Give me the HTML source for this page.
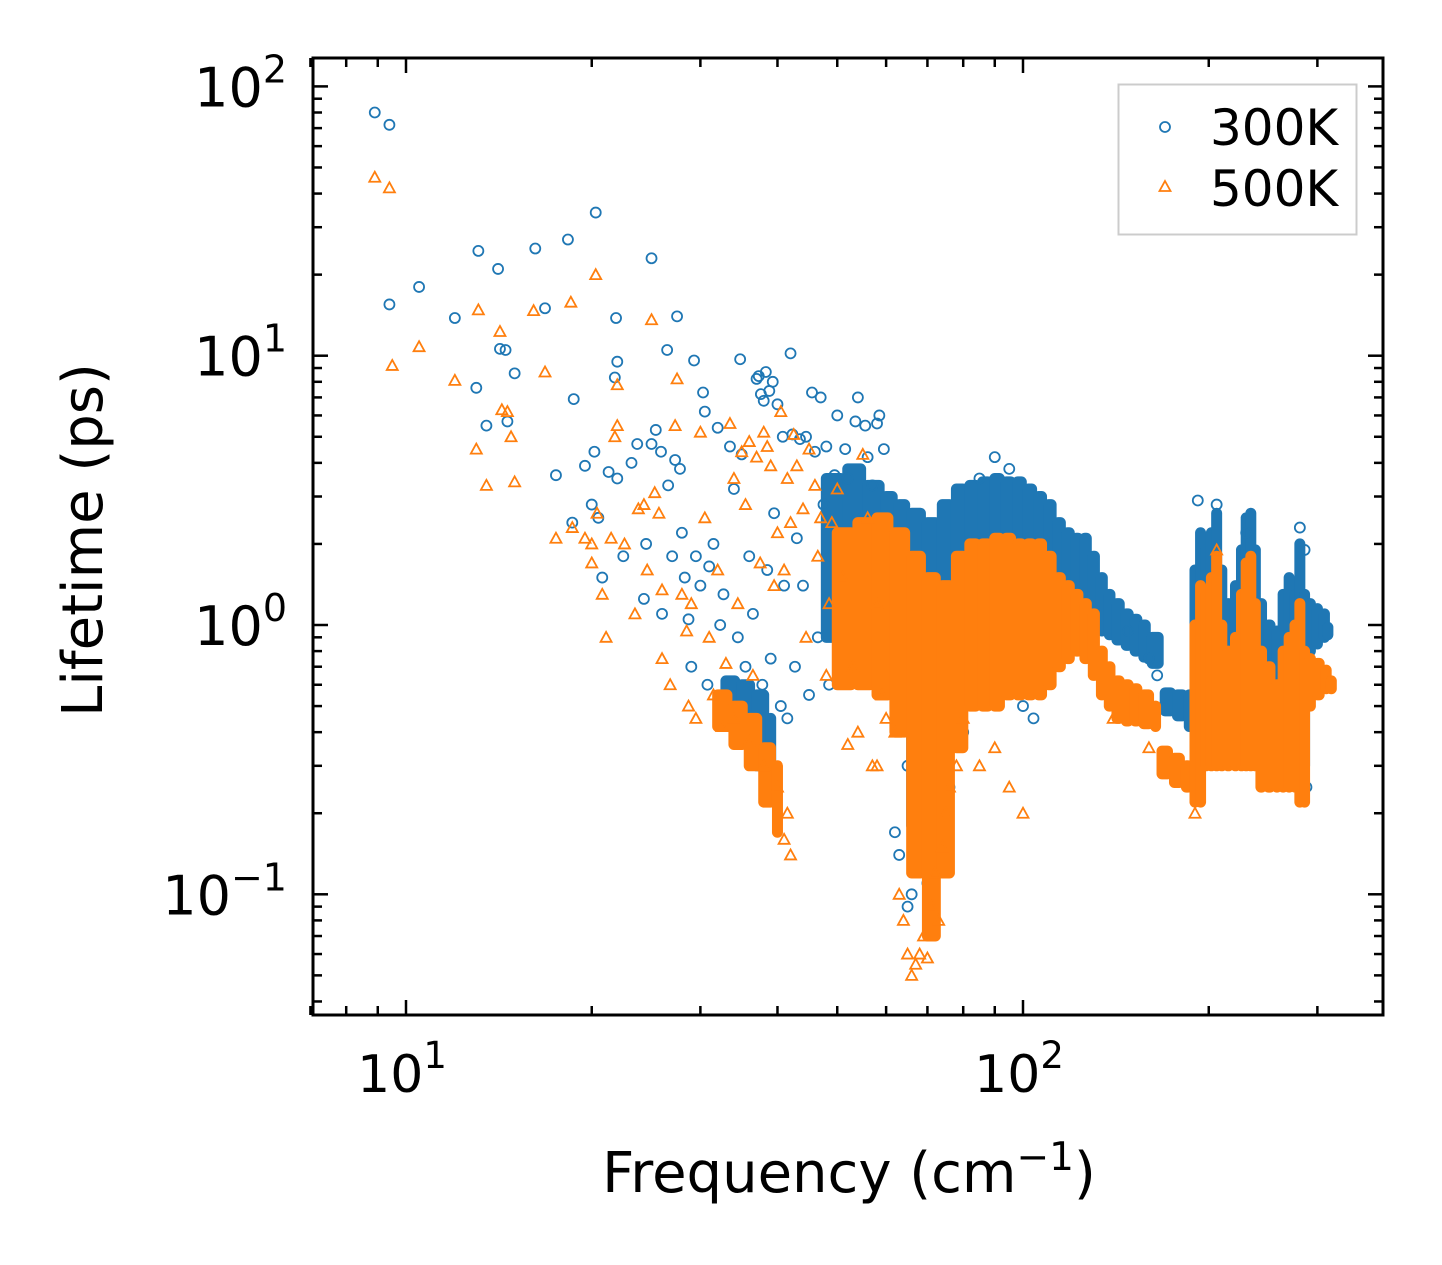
<!DOCTYPE html>
<html><head><meta charset="utf-8"><style>
html,body{margin:0;padding:0;background:#fff;}
svg{display:block;font-family:"DejaVu Sans","Liberation Sans",sans-serif;}
</style></head><body>
<svg id="chart" width="1442" height="1265" viewBox="0 0 1442 1265" xmlns="http://www.w3.org/2000/svg">
<rect width="1442" height="1265" fill="#fff"/>
<g id="marks"></g>
<g id="axes"></g>
<text x="849" y="1192" font-size="56" text-anchor="middle">Frequency (cm<tspan dy="-22" font-size="39">−1</tspan><tspan dy="22">)</tspan></text>
<text transform="translate(102,540) rotate(-90)" font-size="56" text-anchor="middle">Lifetime (ps)</text>
<g>
<rect x="1118.5" y="84.5" width="238" height="150" fill="#fff" fill-opacity="0.8" stroke="#ccc" stroke-width="2"/>
<circle cx="1165" cy="127" r="5" fill="none" stroke="#1f77b4" stroke-width="1.8"/>
<text x="1210" y="145" font-size="50">300K</text>
<polygon points="1165,181 1170.5,191 1159.5,191" fill="none" stroke="#ff7f0e" stroke-width="1.8"/>
<text x="1210" y="206" font-size="50">500K</text>
</g>
</svg>
<script>
// ---- data: 300K scattered points ----
const freq300 = [8.9,9.4,9.4,10.5,12,13.1,13,13.5,14.1,14.2,14.5,14.6,15,16.2,16.8,17.5,18.3,18.7,18.6,19.5,20,20.2,20.3,20.5,20.8,21.3,21.8,21.9,22,22,22.5,23.2,23.7,24.3,24.5,25,25,25.4,25.9,26,26.5,26.6,27,27.3,27.5,27.8,28,28.3,28.7,29,29.3,29.5,30,30.3,30.5,30.8,31,31.5,32,32.3,32.7,33,33.5,34,34.5,34.8,35,35.5,36,36.5,37,37.3,37.6,37.8,38,38.3,38.5,38.8,39,39.3,39.5,40,40.5,40.8,41,41.5,42,42.3,42.7,43,43.5,44,44.5,45,45.5,46,46.5,47,47.5,48,48.5,49,49.5,50,51,51.5,52,53,53.5,54,55,55.5,56,57,57.5,58,58.5,59,59.5,62,63,65,66,68,70,72,74,76,65,67,71,73,75,77,80,84,88,92,96,100,104,90,95,110,85,82,115,120,125,148,160,165,192,206,230,281,286,288];
const life300 = [80,72,15.5,18,13.8,24.5,7.6,5.5,21,10.6,10.5,5.7,8.6,25,15,3.6,27,6.9,2.4,3.9,2.8,4.4,34,2.5,1.5,3.7,8.3,13.8,9.5,3.5,1.8,4,4.7,1.25,2,4.7,23,5.3,4.4,1.1,10.5,3.3,1.8,4.1,14,3.8,2.2,1.5,1.05,0.7,9.6,1.8,1.4,7.3,6.2,0.6,1.65,2,5.4,1,1.3,0.55,4.6,3.2,0.9,9.7,4.3,0.7,1.8,1.1,8.2,8.4,7.2,0.6,6.8,8.7,1.6,7.4,0.75,8,2.6,6.6,0.5,5,1.4,0.45,10.2,5.1,0.7,2.1,4.9,1.4,5,0.55,7.3,4.4,0.9,7,2.8,4.6,0.6,1.8,3.6,6,0.8,4.5,3.5,0.75,5.7,7,2.5,5.5,4.2,3.3,1.6,5.6,6,1.1,4.5,0.17,0.14,0.09,0.1,0.13,0.11,0.2,0.13,0.25,0.3,0.4,0.35,0.5,0.6,0.45,0.4,0.6,0.8,0.6,0.7,0.5,0.45,4.2,3.8,0.9,3.5,0.7,0.9,0.85,1.1,0.95,0.75,0.65,2.9,2.8,2.2,2.3,1.9,0.25];
// ---- data: 300K dense ranges (frequency, low, high) ----
const bandF300 = [33,35,37,39,48,52,56,60,63,66,70,74,78,82,86,90,94,98,102,106,110,114,118,122,126,130,134,138,142,147,152,157,162,170,178,186,190,194,198,202,206,210,215,221,226,230,234,238,243,250,258,264,270,276,281,286,292,300,308,312];
const bandLo300 = [0.42,0.38,0.3,0.27,0.9,1.0,1.2,1.3,1.0,0.18,0.12,0.5,1.2,1.6,1.6,1.6,1.7,1.6,1.5,1.5,1.4,1.3,1.2,1.1,1.1,1.0,0.95,0.92,0.88,0.84,0.8,0.76,0.72,0.48,0.46,0.42,0.4,0.4,0.4,0.4,0.45,0.45,0.45,0.5,0.5,0.55,0.55,0.5,0.45,0.4,0.4,0.4,0.4,0.45,0.4,0.3,0.8,0.85,0.9,0.92];
const bandHi300 = [0.62,0.6,0.55,0.45,3.5,3.8,3.3,3.0,2.8,2.6,2.4,2.8,3.2,3.3,3.4,3.5,3.4,3.4,3.2,3.0,2.8,2.4,2.2,2.1,2.1,1.8,1.5,1.3,1.2,1.1,1.05,1.0,0.9,0.56,0.55,0.55,1.6,2.2,1.9,2.2,2.6,1.6,1.2,1.4,1.9,2.5,2.6,1.9,1.2,1.0,0.95,1.3,1.5,1.3,2.0,1.3,1.2,1.15,1.1,0.98];
// ---- data: 500K scattered points ----
const freq500 = [8.9,9.4,9.5,10.5,12,13.1,13,13.5,14.2,14.3,14.6,14.8,15,16.1,16.8,17.5,18.5,18.6,19.5,20,20,20.3,20.4,20.8,21.1,21.5,21.8,22,22,22.6,23.5,23.8,24.3,24.6,25,25.3,25.7,26,26,26.8,27.3,27.5,28,28.5,28.7,29,29.5,30,30.5,31,31.5,32,32.5,33,33.5,34,34.5,35,35.5,36,36.5,37,37.5,38,38.5,39,39.5,40,40.5,41,41.5,42,42.5,43,44,44.5,45,46,46.5,47,48,48.5,49,50,51,52,53,54,55,56,57,58,59,60,41,42,41.5,40,38,36,34,63,64,65,66,67,68,69,70,71,72,73,74,75,76,78,80,85,90,95,100,62,58,140,160,190,206];
const life500 = [46,42,9.2,10.8,8.1,14.8,4.5,3.3,12.3,6.3,6.2,5,3.4,14.7,8.7,2.1,15.8,2.3,2.1,1.7,2,20,2.6,1.3,0.9,2.1,5,7.8,5.5,2,1.1,2.7,2.8,1.6,13.6,3.1,2.6,0.75,1.35,0.6,5.5,8.2,1.3,0.95,0.5,1.2,0.45,5.2,2.5,0.9,0.55,1.6,0.42,0.72,5.6,3.5,1.2,4.4,2.8,4.8,0.65,4.2,1.7,5.2,4.6,3.9,1.4,2.2,6.2,1.6,3.5,2.4,5.1,3.9,2.7,0.9,4.5,3.3,1.8,2.5,0.65,1.2,2.4,3.2,1.5,0.36,0.7,0.4,4.3,2.5,0.3,1.2,0.55,0.45,0.16,0.14,0.2,0.25,0.3,0.37,0.45,0.1,0.08,0.06,0.05,0.055,0.06,0.07,0.058,0.09,0.12,0.08,0.15,0.2,0.25,0.3,0.45,0.3,0.35,0.25,0.2,0.4,0.3,0.45,0.35,0.2,1.9];
// ---- data: 500K dense ranges ----
const bandF500 = [32,34,36,38,40,50,54,58,62,66,70,74,78,82,86,90,94,98,102,106,110,114,118,122,126,130,134,138,142,147,152,157,164,168,176,184,190,194,198,202,206,210,215,221,226,230,234,238,243,250,258,264,270,276,281,286,292,300,310,316];
const bandLo500 = [0.42,0.36,0.3,0.22,0.17,0.6,0.6,0.55,0.4,0.12,0.07,0.12,0.35,0.5,0.5,0.5,0.55,0.55,0.55,0.55,0.6,0.7,0.75,0.8,0.75,0.65,0.55,0.5,0.45,0.44,0.44,0.43,0.42,0.28,0.26,0.25,0.22,0.22,0.3,0.3,0.3,0.3,0.3,0.3,0.3,0.3,0.3,0.3,0.25,0.25,0.25,0.25,0.25,0.25,0.22,0.22,0.5,0.55,0.58,0.58];
const bandHi500 = [0.55,0.5,0.45,0.35,0.3,2.2,2.4,2.5,2.2,1.8,1.5,1.4,1.8,2.0,2.0,2.1,2.1,2.0,2.0,2.0,1.8,1.5,1.4,1.3,1.2,1.1,0.8,0.7,0.62,0.6,0.58,0.55,0.5,0.34,0.32,0.3,1.0,1.4,1.3,1.5,1.8,1.0,0.8,0.9,1.3,1.7,1.8,1.2,0.8,0.7,0.6,0.8,0.9,1.0,1.2,0.8,0.75,0.72,0.68,0.62];
// ---- ticks ----
const xMajorTicks = [10,100];
const xMajorLabels = ["1","2"];
const xMinorTicks = [7,8,9,20,30,40,50,60,70,80,90,200,300];
const yMajorTicks = [0.1,1,10,100];
const yMajorLabels = ["−1","0","1","2"];
const yMinorTicks = [0.04,0.05,0.06,0.07,0.08,0.09,0.2,0.3,0.4,0.5,0.6,0.7,0.8,0.9,2,3,4,5,6,7,8,9,20,30,40,50,60,70,80,90];

const L=313,R=1383,T=58,B=1015;
function xs(f){return 406+617*(Math.log10(f)-1);}
function ys(v){return 625-269.3*Math.log10(v);}
const NS="http://www.w3.org/2000/svg";
const marks=document.getElementById('marks');
const axes=document.getElementById('axes');
function mk(tag,attrs,parent){const e=document.createElementNS(NS,tag);for(const k in attrs)e.setAttribute(k,attrs[k]);parent.appendChild(e);return e;}

function drawBands(F,Lo,Hi,color,name){
  const g=mk('g',{},marks);
  
  
  for(let i=0;i<F.length;i++){
    const x=xs(F[i]);
    let w=11;
    if(i+1<F.length){const d=xs(F[i+1])-x; if(d<26) w=Math.max(11,d+4);}
    const r=mk('rect',{x:x-5.5,y:ys(Hi[i])-5.5,width:w,height:ys(Lo[i])-ys(Hi[i])+11,rx:5.5,fill:color},g);
    
    
  }
}
function drawCircles(F,V,name){
  const g=mk('g',{},marks);
  
  
  for(let i=0;i<F.length;i++){
    const c=mk('circle',{cx:xs(F[i]),cy:ys(V[i]),r:5,fill:'none',stroke:'#1f77b4','stroke-width':1.8},g);
    
    
  }
}
function drawTris(F,V,name){
  const g=mk('g',{},marks);
  
  
  for(let i=0;i<F.length;i++){
    const x=xs(F[i]),y=ys(V[i]);
    const p=mk('polygon',{points:`${x},${y-5.5} ${x+5.5},${y+4.5} ${x-5.5},${y+4.5}`,fill:'none',stroke:'#ff7f0e','stroke-width':1.8},g);
    
    
  }
}
drawBands(bandF300,bandLo300,bandHi300,'#1f77b4','series-300k-dense');
drawCircles(freq300,life300,'series-300k');
drawBands(bandF500,bandLo500,bandHi500,'#ff7f0e','series-500k-dense');
drawTris(freq500,life500,'series-500k');

const frame=mk('rect',{x:L,y:T,width:R-L,height:B-T,fill:'none',stroke:'#000','stroke-width':3},axes);


function tickX(v,len,name){
  const x=xs(v);
  const a=mk('line',{x1:x,x2:x,y1:B,y2:B-len,stroke:'#000','stroke-width':2.5},axes);
  
  
  const b=mk('line',{x1:x,x2:x,y1:T,y2:T+len,stroke:'#000','stroke-width':2.5},axes);
  
  
}
function tickY(v,len,name){
  const y=ys(v);
  const a=mk('line',{x1:L,x2:L+len,y1:y,y2:y,stroke:'#000','stroke-width':2.5},axes);
  
  
  const b=mk('line',{x1:R,x2:R-len,y1:y,y2:y,stroke:'#000','stroke-width':2.5},axes);
  
  
}
xMinorTicks.forEach(v=>tickX(v,9,'x-minor-tick'));
yMinorTicks.forEach(v=>tickY(v,9,'y-minor-tick'));
xMajorTicks.forEach((v,i)=>{
  tickX(v,15,'x-major-tick');
  const t=mk('text',{x:xs(v)-4,y:1092,'font-size':52,'text-anchor':'middle'},axes);
  
  
  t.innerHTML='10<tspan dy="-24" font-size="37">'+xMajorLabels[i]+'</tspan>';
});
yMajorTicks.forEach((v,i)=>{
  tickY(v,15,'y-major-tick');
  const t=mk('text',{x:287,y:ys(v)+20,'font-size':54,'text-anchor':'end'},axes);
  
  
  t.innerHTML='10<tspan dy="-24" font-size="38">'+yMajorLabels[i]+'</tspan>';
});
</script>
</body></html>
